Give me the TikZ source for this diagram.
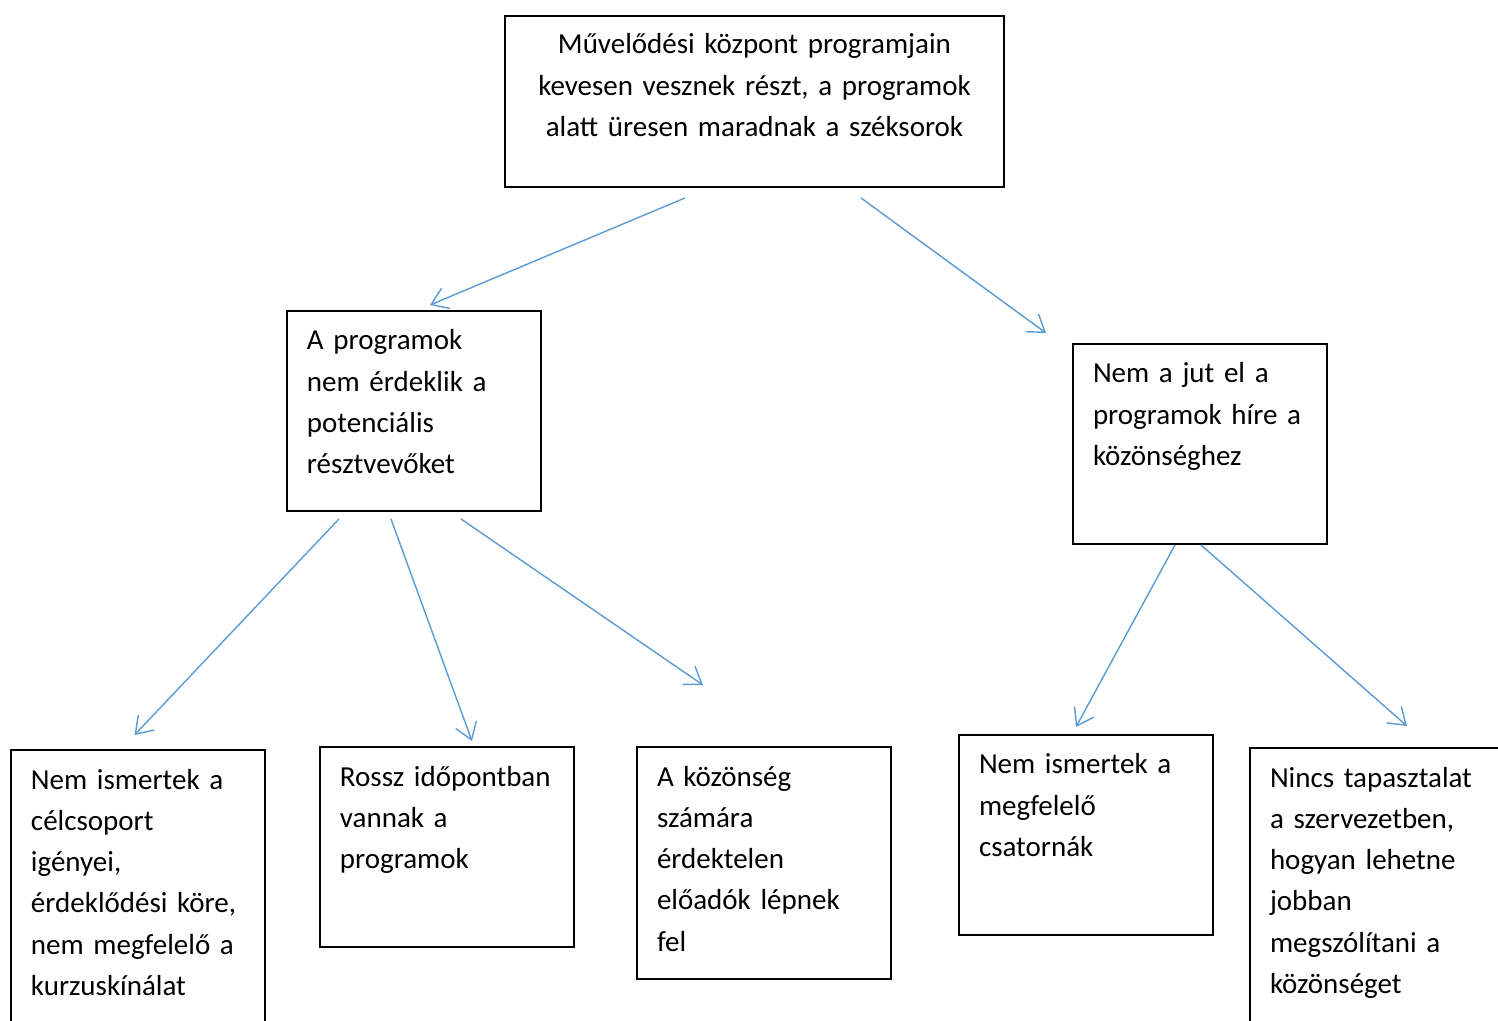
\documentclass[tikz,border=0pt]{standalone}
\usepackage{fontspec}
\setmainfont{Carlito}
\usepackage{tikz}
\usetikzlibrary{arrows.meta,calc}

\definecolor{arrowblue}{RGB}{91,155,213}

\begin{document}
\begin{tikzpicture}[
    x=0.02cm, y=-0.02cm,
    >={Straight Barb[length=0.32cm,width=0.44cm]},
    box/.style={
        draw,
        line width=1.1pt,
        anchor=north west,
        outer sep=0pt,
        inner xsep=0.4cm,
        inner ysep=0pt,
        text width=4.28cm,
        text height=0.78cm,
        align=left,
        font=\fontsize{16.5}{23.5}\selectfont
    },
    arrow/.style={->, draw=arrowblue, line width=0.8pt}
]
\useasboundingbox (0,0) rectangle (1498,1021);

% Nodes -- problem on top, causes below
\node[box, text width=9.18cm, text height=0.76cm, text depth=2.66cm, align=center]
    (problem) at (505,16)
    {Művelődési központ programjain\\kevesen vesznek részt, a programok\\alatt üresen maradnak a széksorok};

\node[box, text depth=3.22cm] (interest) at (287,311)
    {A programok\\nem érdeklik a\\potenciális\\résztvevőket};
\node[box, text depth=3.22cm] (news) at (1073,344)
    {Nem a jut el a\\programok híre a\\közönséghez};

\node[box, text depth=5.02cm] (needs) at (11,750)
    {Nem ismertek a\\célcsoport\\igényei,\\érdeklődési köre,\\nem megfelelő a\\kurzuskínálat};
\node[box, text depth=3.22cm] (timing) at (320,747)
    {Rossz időpontban\\vannak a\\programok};
\node[box, text depth=3.86cm] (speakers) at (637,747)
    {A közönség\\számára\\érdektelen\\előadók lépnek\\fel};
\node[box, text depth=3.22cm] (channels) at (959,735)
    {Nem ismertek a\\megfelelő\\csatornák};
\node[box, text depth=5.02cm] (experience) at (1250,748)
    {Nincs tapasztalat\\a szervezetben,\\hogyan lehetne\\jobban\\megszólítani a\\közönséget};

% Arrows (downward, from effect to cause)
\draw[arrow] ($(problem.south)+(-69.5,11)$) -- ($(interest.north)+(16,-6)$);
\draw[arrow] ($(problem.south)+(106.5,11)$) -- ($(news.north west)+(-27,-11)$);
\draw[arrow] ($(interest.south)+(-75,8)$)   -- ($(needs.north)+(-3.5,-15)$);
\draw[arrow] ($(interest.south)+(-23,8)$)   -- ($(timing.north)+(25,-6)$);
\draw[arrow] ($(interest.south)+(47,8)$)    -- ($(speakers.north)+(-61,-62)$);
\draw[arrow] ($(news.south)+(-25,1)$)       -- ($(channels.north)+(-10,-8)$);
\draw[arrow] ($(news.south)+(1,1)$)         -- ($(experience.north)+(30,-22)$);

\end{tikzpicture}
\end{document}
